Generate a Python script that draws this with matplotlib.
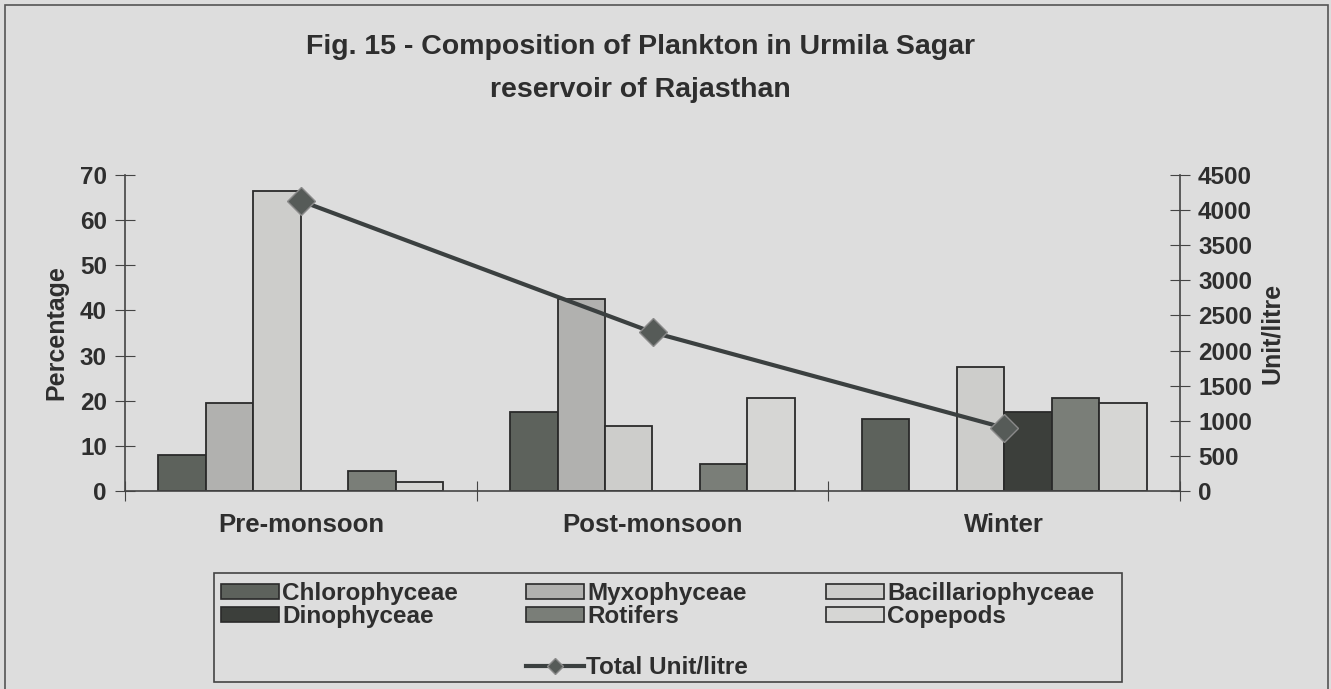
import matplotlib
matplotlib.use("Agg")
import matplotlib.pyplot as plt
from matplotlib.patches import Patch, Rectangle
from matplotlib.lines import Line2D
import numpy as np

# data
seasons = ["Pre-monsoon", "Post-monsoon", "Winter"]
groups = ["Chlorophyceae", "Myxophyceae", "Bacillariophyceae",
          "Dinophyceae", "Rotifers", "Copepods"]
chlorophyceae = [8, 17.5, 16]
myxophyceae = [19.5, 42.5, 0]
bacillariophyceae = [66.5, 14.5, 27.5]
dinophyceae = [0, 0, 17.5]
rotifers = [4.5, 6, 20.5]
copepods = [2, 20.5, 19.5]
total_unit = [4130, 2260, 900]

series = [chlorophyceae, myxophyceae, bacillariophyceae, dinophyceae, rotifers, copepods]
colors = ["#5d625c", "#b1b1af", "#cdcdcb", "#3c3f3b", "#7a7e78", "#d6d6d4"]

bg = "#dddddd"
ink = "#2e2e2e"
plt.rcParams['font.family'] = ['Liberation Sans', 'DejaVu Sans']

fig = plt.figure(figsize=(13.31, 6.89), dpi=100, facecolor=bg)
ax = fig.add_axes([125/1331, 1-491/689, 1055/1331, 316/689])
ax.set_facecolor("none")

x = np.arange(len(seasons))
w = 0.135
for i, (vals, c) in enumerate(zip(series, colors)):
    ax.bar(x + (i-2.5)*w, vals, w, color=c, edgecolor="#2a2a2a", linewidth=1.3,
           label=groups[i], zorder=2)

ax.set_xlim(-0.5, 2.5)
ax.set_ylim(0, 70)
ax.set_yticks(range(0, 71, 10))
ax.set_xticks([-0.5, 0.5, 1.5, 2.5])
ax.set_xticklabels([])
ax.set_xticks(x, minor=True)
ax.set_xticklabels(seasons, minor=True, fontsize=18.5, fontweight="bold", color=ink)
ax.tick_params(axis="x", which="minor", length=0, pad=16)
ax.tick_params(axis="x", which="major", direction="inout", length=14, color="#444")
ax.tick_params(axis="y", direction="inout", length=14, pad=6, color="#444",
               labelsize=17.5, labelcolor=ink)
for t in ax.get_yticklabels():
    t.set_fontweight("bold")
for s in ["top", "right"]:
    ax.spines[s].set_visible(False)
for s in ["left", "bottom"]:
    ax.spines[s].set_color("#444")
    ax.spines[s].set_linewidth(1.2)
ax.set_ylabel("Percentage", fontsize=18, fontweight="bold", color=ink, labelpad=8)

ax2 = ax.twinx()
ax2.set_ylim(0, 4500)
ax2.set_yticks(range(0, 4501, 500))
ax2.plot(x, total_unit, color="#3b4040", lw=3, marker="D", markersize=14,
         mfc="#565b58", mec="#8a8a8a", mew=1, zorder=5)
ax2.tick_params(axis="y", direction="inout", length=14, pad=6, color="#444",
                labelsize=17.5, labelcolor=ink)
for t in ax2.get_yticklabels():
    t.set_fontweight("bold")
for s in ["top", "left", "bottom"]:
    ax2.spines[s].set_visible(False)
ax2.spines["right"].set_color("#444")
ax2.spines["right"].set_linewidth(1.2)
ax2.set_ylabel("Unit/litre", fontsize=18, fontweight="bold", color=ink, labelpad=6)

fig.text(640/1331, 1-47/689, "Fig. 15 - Composition of Plankton in Urmila Sagar",
         ha="center", va="center", fontsize=20.5, fontweight="bold", color=ink)
fig.text(640/1331, 1-90/689, "reservoir of Rajasthan",
         ha="center", va="center", fontsize=20.5, fontweight="bold", color=ink)

# outer border and legend frame
fig.patches.append(Rectangle((5/1331, -0.01), 1323/1331, 1.0-5/689+0.01,
                             transform=fig.transFigure, fill=False,
                             edgecolor="#555", lw=1.2))
fig.patches.append(Rectangle((214/1331, 1-682/689), 908/1331, 109/689,
                             transform=fig.transFigure, fill=False,
                             edgecolor="#444", lw=1.2))

leg_font = {"weight": "bold", "size": 17.5}
col_x = [221, 526, 826]
for k in range(3):
    idx = [k, k + 3]
    handles = [Patch(facecolor=colors[i], edgecolor="#2a2a2a", lw=1.2) for i in idx]
    leg = fig.legend(handles, [groups[i] for i in idx], loc="center left",
                     bbox_to_anchor=(col_x[k]/1331, 1-605/689), frameon=False,
                     prop=leg_font, handlelength=2.4, handleheight=0.55,
                     handletextpad=0.12, labelspacing=0.0, borderpad=0,
                     borderaxespad=0)
    for t in leg.get_texts():
        t.set_color(ink)

line_h = Line2D([], [], color="#3b4040", lw=3, marker="D", markersize=8,
                mfc="#565b58", mec="#8a8a8a")
leg2 = fig.legend([line_h], ["Total Unit/litre"], loc="center left",
                  bbox_to_anchor=(526/1331, 1-668/689), frameon=False,
                  prop=leg_font, handlelength=2.4, handletextpad=0.05,
                  borderpad=0, borderaxespad=0)
for t in leg2.get_texts():
    t.set_color(ink)

fig.savefig("out.png", dpi=100, facecolor=bg)
